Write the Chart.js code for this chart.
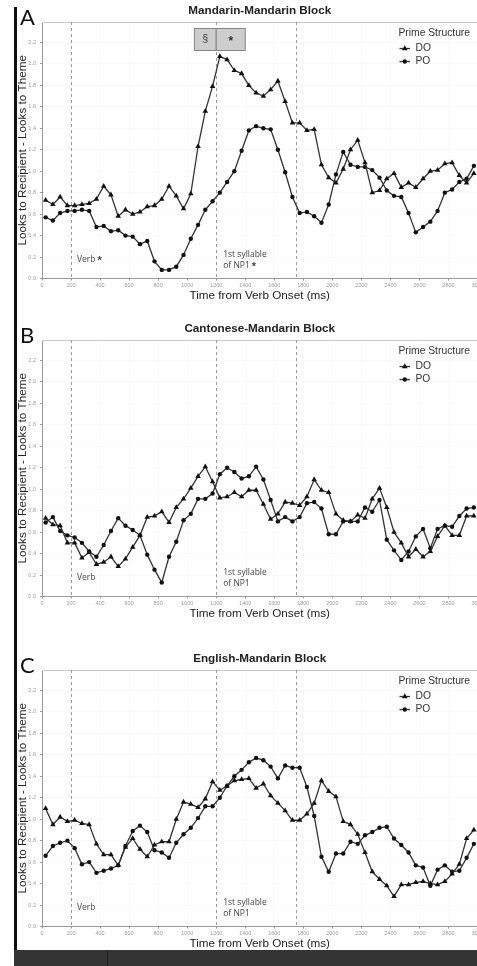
<!DOCTYPE html>
<html>
<head>
<meta charset="utf-8">
<script src="https://cdn.jsdelivr.net/npm/chart.js@4.4.1/dist/chart.umd.min.js"></script>
<style>
  html, body { margin: 0; padding: 0; background: #fff; }
  body { width: 477px; height: 966px; position: relative; overflow: hidden; }
  canvas.panel { position: absolute; left: 0; }
  #bar { position: absolute; left: 14px; top: 7px; width: 2.5px; height: 943px; background: #111; }
  #band { position: absolute; left: 14px; top: 950px; width: 463px; height: 16px; background: #343434; }
  #band div { position: absolute; left: 93px; top: 0; width: 1px; height: 16px; background: #1c1c1c; }
</style>
</head>
<body>
<div id="bar"></div>
<canvas class="panel" id="panel0" width="520" height="305" style="top:0px"></canvas>
<canvas class="panel" id="panel1" width="520" height="305" style="top:318px"></canvas>
<canvas class="panel" id="panel2" width="520" height="305" style="top:648px"></canvas>
<div id="band"><div></div></div>
<script>
// time bins (ms from verb onset)
const timeMs = [25, 75, 125, 175, 225, 275, 325, 375, 425, 475, 525, 575, 625, 675, 725, 775, 825, 875, 925, 975,
	1025, 1075, 1125, 1175, 1225, 1275, 1325, 1375, 1425, 1475, 1525, 1575, 1625, 1675, 1725, 1775, 1825, 1875, 1925, 1975,
	2025, 2075, 2125, 2175, 2225, 2275, 2325, 2375, 2425, 2475, 2525, 2575, 2625, 2675, 2725, 2775, 2825, 2875, 2925, 2975];

// looks to recipient minus looks to theme, per prime structure
const mandarinDO = [0.73, 0.69, 0.76, 0.68, 0.68, 0.69, 0.70, 0.74, 0.86, 0.78, 0.58, 0.64, 0.60, 0.62, 0.67, 0.68, 0.74, 0.86, 0.77, 0.65,
	0.79, 1.23, 1.56, 1.79, 2.07, 2.04, 1.94, 1.91, 1.80, 1.73, 1.70, 1.76, 1.84, 1.65, 1.45, 1.45, 1.38, 1.39, 1.06, 0.94,
	0.89, 1.02, 1.20, 1.29, 1.08, 0.80, 0.82, 0.93, 0.98, 0.85, 0.89, 0.85, 0.93, 1.00, 1.01, 1.07, 1.08, 0.96, 0.89, 0.98];
const mandarinPO = [0.57, 0.54, 0.61, 0.63, 0.63, 0.64, 0.63, 0.48, 0.49, 0.44, 0.45, 0.40, 0.39, 0.32, 0.35, 0.16, 0.08, 0.08, 0.11, 0.22,
	0.37, 0.50, 0.64, 0.72, 0.80, 0.90, 1.00, 1.19, 1.38, 1.42, 1.40, 1.39, 1.20, 0.99, 0.76, 0.61, 0.62, 0.58, 0.52, 0.69,
	0.97, 1.18, 1.06, 1.04, 1.04, 1.01, 0.94, 0.82, 0.77, 0.76, 0.61, 0.43, 0.48, 0.53, 0.63, 0.80, 0.83, 0.90, 0.93, 1.05];
const cantoneseDO = [0.73, 0.67, 0.66, 0.50, 0.50, 0.36, 0.41, 0.30, 0.32, 0.37, 0.28, 0.35, 0.46, 0.57, 0.74, 0.75, 0.79, 0.69, 0.83, 0.91,
	1.01, 1.12, 1.21, 1.07, 0.92, 0.93, 0.97, 0.93, 0.99, 0.99, 0.86, 0.72, 0.77, 0.88, 0.87, 0.85, 0.93, 1.09, 0.99, 0.97,
	0.77, 0.71, 0.70, 0.76, 0.73, 0.91, 1.01, 0.83, 0.60, 0.50, 0.37, 0.44, 0.37, 0.42, 0.56, 0.66, 0.57, 0.57, 0.75, 0.75];
const cantonesePO = [0.69, 0.74, 0.61, 0.57, 0.55, 0.50, 0.42, 0.37, 0.48, 0.61, 0.73, 0.66, 0.62, 0.57, 0.39, 0.25, 0.13, 0.37, 0.51, 0.71,
	0.77, 0.91, 0.91, 0.96, 1.14, 1.20, 1.16, 1.10, 1.12, 1.21, 1.09, 0.90, 0.70, 0.74, 0.70, 0.74, 0.87, 0.88, 0.82, 0.58,
	0.58, 0.70, 0.70, 0.70, 0.83, 0.79, 0.90, 0.53, 0.43, 0.34, 0.42, 0.56, 0.63, 0.45, 0.63, 0.66, 0.65, 0.75, 0.82, 0.83];
const englishDO = [1.10, 0.95, 1.02, 0.98, 0.99, 0.96, 0.95, 0.77, 0.67, 0.67, 0.57, 0.74, 0.82, 0.72, 0.65, 0.76, 0.79, 0.79, 1.00, 1.16,
	1.14, 1.11, 1.19, 1.35, 1.27, 1.31, 1.36, 1.37, 1.38, 1.29, 1.33, 1.22, 1.15, 1.08, 0.99, 0.99, 1.05, 1.15, 1.36, 1.26,
	1.21, 0.98, 0.95, 0.86, 0.69, 0.51, 0.44, 0.38, 0.28, 0.39, 0.39, 0.41, 0.42, 0.40, 0.39, 0.42, 0.49, 0.58, 0.82, 0.90];
const englishPO = [0.66, 0.75, 0.78, 0.80, 0.73, 0.58, 0.60, 0.50, 0.52, 0.54, 0.57, 0.75, 0.89, 0.94, 0.88, 0.71, 0.69, 0.64, 0.78, 0.86,
	0.92, 1.01, 1.12, 1.12, 1.20, 1.31, 1.40, 1.46, 1.53, 1.57, 1.55, 1.49, 1.38, 1.50, 1.48, 1.48, 1.30, 1.03, 0.65, 0.51,
	0.68, 0.68, 0.79, 0.77, 0.85, 0.88, 0.92, 0.93, 0.82, 0.76, 0.69, 0.57, 0.55, 0.38, 0.53, 0.57, 0.51, 0.52, 0.64, 0.77];

const blockTitles = ["Mandarin-Mandarin Block", "Cantonese-Mandarin Block", "English-Mandarin Block"];
const panelLetters = ["A", "B", "C"];
const landmarksMs = [200, 1200, 1750];
const verbSignificant = [true, false, false];
const np1Significant = [true, false, false];
// significance window above the NP1 onset (panel A only)
const windowMs = [1050, 1200, 1400];
const windowMarks = ["§", "*"];

const SANS = '"Liberation Sans", Arial, sans-serif';
const NOTE = '"Open Sans", sans-serif';
Chart.defaults.font.family = SANS;

function marker(ctx, style, r, cx, cy) {
	ctx.beginPath();
	if (style === "triangle") {
		ctx.moveTo(cx, cy - r);
		ctx.lineTo(cx + r * 0.866, cy + r * 0.5);
		ctx.lineTo(cx - r * 0.866, cy + r * 0.5);
		ctx.closePath();
	} else {
		ctx.arc(cx, cy, r, 0, Math.PI * 2);
	}
	ctx.fill();
}

const panelDecor = {
	id: "panelDecor",
	beforeDatasetsDraw(chart) {
		const { ctx, chartArea: a, scales: { x } } = chart;
		ctx.save();
		ctx.strokeStyle = "#c8c8c8";
		ctx.lineWidth = 1;
		ctx.beginPath();
		ctx.moveTo(a.left, a.top + 0.5);
		ctx.lineTo(a.right, a.top + 0.5);
		ctx.lineTo(a.right, a.bottom);
		ctx.stroke();
		ctx.setLineDash([3, 3]);
		ctx.strokeStyle = "#9a9a9a";
		for (const ms of landmarksMs) {
			const px = Math.round(x.getPixelForValue(ms)) + 0.5;
			ctx.beginPath();
			ctx.moveTo(px, a.top);
			ctx.lineTo(px, a.bottom);
			ctx.stroke();
		}
		ctx.restore();
	},
	afterDatasetsDraw(chart, args, opts) {
		const { ctx, chartArea: a, scales: { x, y } } = chart;
		const idx = opts.index;
		ctx.save();
		ctx.textAlign = "left";

		// panel letter
		ctx.fillStyle = "#111";
		ctx.textBaseline = "alphabetic";
		ctx.font = '22px Lato, sans-serif';
		ctx.fillText(panelLetters[idx], 20, 24.5);
		ctx.textBaseline = "middle";

		// landmark notes
		ctx.fillStyle = "#444";
		ctx.font = "8.5px " + NOTE;
		const vx = x.getPixelForValue(landmarksMs[0]) + 6;
		ctx.fillText("Verb", vx, a.bottom - 18.5);
		const vw = ctx.measureText("Verb").width;
		const nx = x.getPixelForValue(landmarksMs[1]) + 7;
		ctx.fillText("1st syllable", nx, a.bottom - 24);
		ctx.fillText("of NP1", nx, a.bottom - 13);
		const nw = ctx.measureText("of NP1").width;
		ctx.font = "bold 11px " + SANS;
		if (verbSignificant[idx]) ctx.fillText("*", vx + vw + 2, a.bottom - 17.5);
		if (np1Significant[idx]) ctx.fillText("*", nx + nw + 2, a.bottom - 12);

		// significance window boxes
		if (idx === 0) {
			const top = y.getPixelForValue(2.33);
			const bot = y.getPixelForValue(2.125);
			ctx.lineWidth = 1;
			for (let i = 0; i < windowMarks.length; i++) {
				const l = x.getPixelForValue(windowMs[i]);
				const r = x.getPixelForValue(windowMs[i + 1]);
				ctx.fillStyle = "#cdcdcd";
				ctx.fillRect(l, top, r - l, bot - top);
				ctx.strokeStyle = "#858585";
				ctx.strokeRect(l, top, r - l, bot - top);
				ctx.fillStyle = "#333";
				ctx.textAlign = "center";
				ctx.font = (i === 0 ? "10px " : "bold 12px ") + SANS;
				ctx.fillText(windowMarks[i], (l + r) / 2, (top + bot) / 2 + (i === 0 ? 0 : 2.5));
			}
			ctx.textAlign = "left";
		}

		// legend
		const lx = a.right - 79;
		ctx.fillStyle = "#333";
		ctx.font = "10.3px " + SANS;
		ctx.fillText("Prime Structure", lx, a.top + 10.7);
		chart.data.datasets.forEach((ds, i) => {
			const cy = a.top + 26.5 + i * 13;
			ctx.strokeStyle = ds.borderColor;
			ctx.lineWidth = ds.borderWidth;
			ctx.beginPath();
			ctx.moveTo(lx + 1, cy);
			ctx.lineTo(lx + 11.5, cy);
			ctx.stroke();
			ctx.fillStyle = ds.pointBackgroundColor;
			marker(ctx, ds.pointStyle, ds.pointRadius, lx + 6.3, cy);
			ctx.fillStyle = "#333";
			ctx.fillText(ds.label, lx + 17, cy);
		});
		ctx.restore();
	},
};

function series(values) {
	return timeMs.map((t, i) => ({ x: t, y: values[i] }));
}

function makePanel(idx, doValues, poValues) {
	const ctx = document.getElementById(`panel${idx}`).getContext("2d");
	const common = {
		borderColor: "#333",
		borderWidth: 1.3,
		pointBackgroundColor: "#111",
		pointBorderColor: "#111",
		pointBorderWidth: 0,
		tension: 0,
	};
	return new Chart(ctx, {
		type: "line",
		data: {
			datasets: [
				{ ...common, label: "DO", data: series(doValues), pointStyle: "triangle", pointRadius: 3.2 },
				{ ...common, label: "PO", data: series(poValues), pointStyle: "circle", pointRadius: 2.2 },
			],
		},
		options: {
			responsive: false,
			animation: false,
			events: [],
			layout: { padding: { left: 0, right: 42.5, top: 0, bottom: 0 } },
			plugins: {
				legend: { display: false },
				tooltip: { enabled: false },
				title: {
					display: true,
					text: blockTitles[idx],
					fullSize: false,
					color: "#222",
					font: { size: 11.7, weight: "bold" },
					padding: { top: 4, bottom: 4 },
				},
				panelDecor: { index: idx },
			},
			scales: {
				x: {
					type: "linear",
					min: 0,
					max: 3000,
					afterFit: (s) => {
						s.height = 26.5;
					},
					ticks: {
						stepSize: 200,
						autoSkip: false,
						maxRotation: 0,
						color: "#999",
						font: { size: 5.5 },
						padding: 2,
						callback: (v) => String(v),
					},
					grid: { color: "rgba(0,0,0,0.02)", tickColor: "#999", tickLength: 2 },
					border: { color: "#999", width: 1 },
					title: {
						display: true,
						text: "Time from Verb Onset (ms)",
						color: "#222",
						font: { size: 11.7 },
						padding: { top: 0, bottom: 2 },
					},
				},
				y: {
					min: 0,
					max: 2.39,
					afterFit: (s) => {
						s.width = 42;
					},
					afterBuildTicks: (s) => {
						s.ticks = s.ticks.filter((t) => t.value <= 2.2001);
					},
					ticks: {
						stepSize: 0.2,
						color: "#999",
						font: { size: 5.5 },
						padding: 4,
						callback: (v) => v.toFixed(1),
					},
					grid: { color: "rgba(0,0,0,0.02)", tickColor: "#999", tickLength: 2 },
					border: { color: "#999", width: 1 },
					title: {
						display: true,
						text: "Looks to Recipient - Looks to Theme",
						color: "#222",
						font: { size: 11.7 },
						padding: { top: 16, bottom: 0 },
					},
				},
			},
		},
		plugins: [panelDecor],
	});
}

makePanel(0, mandarinDO, mandarinPO);
makePanel(1, cantoneseDO, cantonesePO);
makePanel(2, englishDO, englishPO);
</script>
</body>
</html>
